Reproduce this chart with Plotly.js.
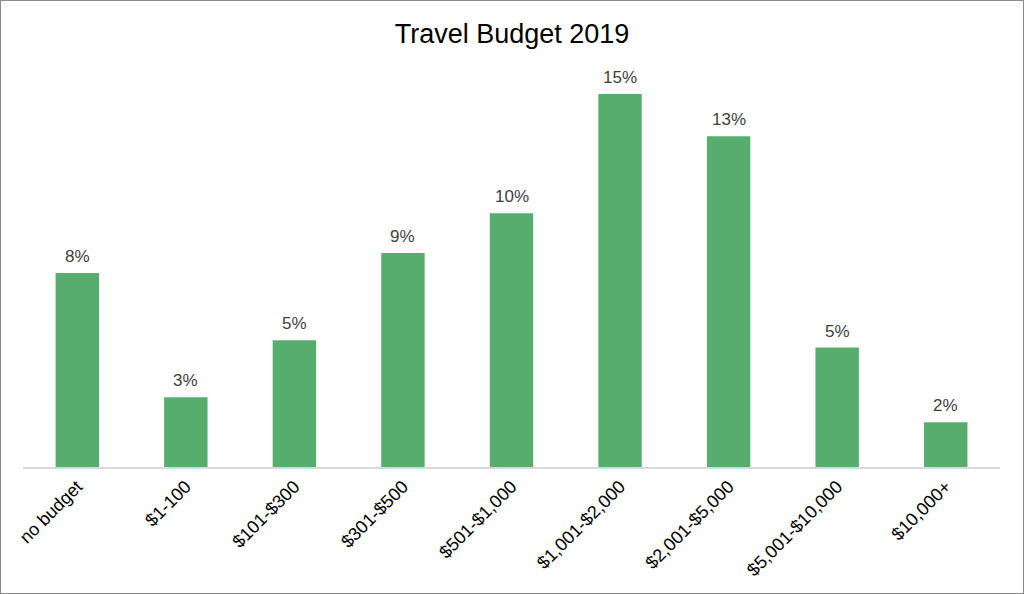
<!DOCTYPE html>
<html>
<head>
<meta charset="utf-8">
<script src="https://cdn.plot.ly/plotly-3.0.1.min.js"></script>
<style>
  html, body { margin: 0; padding: 0; background: #fff; }
  #chart { width: 1022px; height: 592px; border: 1px solid #8c8c8c; }
</style>
</head>
<body>
<div id="chart"></div>
<script>
const categories = ["no budget", "$1-100", "$101-$300", "$301-$500", "$501-$1,000", "$1,001-$2,000", "$2,001-$5,000", "$5,001-$10,000", "$10,000+"];
const shares = [7.8, 2.8, 5.1, 8.6, 10.2, 15.0, 13.3, 4.8, 1.8];

const trace = {
  type: "bar",
  x: categories,
  y: shares,
  marker: { color: "#57ad6e" },
  hoverinfo: "skip"
};

const labelFont = { family: "Liberation Sans, Arial, sans-serif", size: 17, color: "#404040" };
const annotations = categories.map((c, i) => ({
  x: c,
  y: shares[i],
  xref: "x",
  yref: "y",
  text: Math.round(shares[i]) + "%",
  showarrow: false,
  yanchor: "bottom",
  yshift: 5,
  font: labelFont
}));

const layout = {
  width: 1022,
  height: 592,
  margin: { l: 22, r: 23, t: 68, b: 126 },
  paper_bgcolor: "#fff",
  plot_bgcolor: "#fff",
  bargap: 0.6,
  showlegend: false,
  annotations: annotations,
  title: {
    text: "Travel Budget 2019",
    font: { family: "Liberation Sans, Arial, sans-serif", size: 27, color: "#000" },
    x: 0.5, xanchor: "center", y: 0.945, yanchor: "middle"
  },
  xaxis: {
    type: "category",
    tickangle: -45,
    showline: true,
    linecolor: "#d9d9d9",
    linewidth: 2,
    ticks: "",
    ticklen: 0,
    showgrid: false,
    tickfont: { family: "Liberation Sans, Arial, sans-serif", size: 18, color: "#000" }
  },
  yaxis: {
    range: [0, 16],
    visible: false,
    showgrid: false,
    zeroline: false
  }
};

Plotly.newPlot("chart", [trace], layout, { displayModeBar: false, staticPlot: true });
</script>
</body>
</html>
